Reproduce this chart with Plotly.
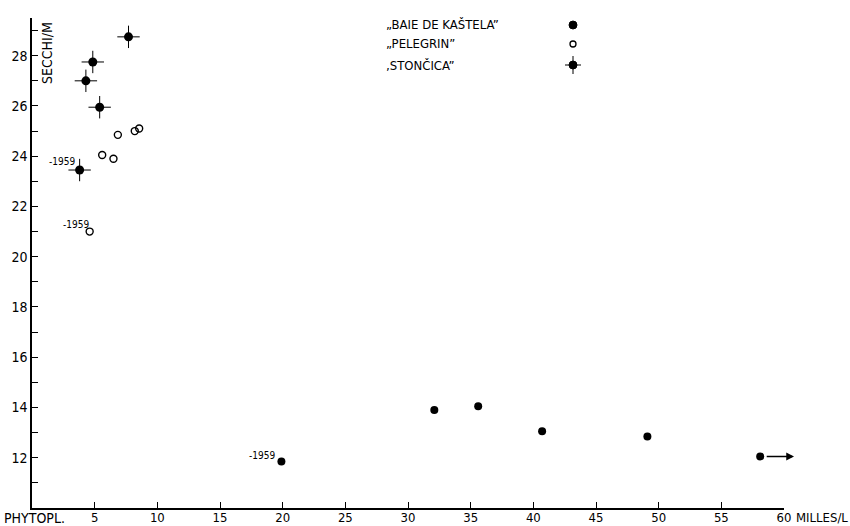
import plotly.graph_objects as go

# ---- data ----
kastela_x = [19.9, 32.1, 35.6, 40.7, 49.1, 58.1]
kastela_y = [11.85, 13.9, 14.05, 13.05, 12.85, 12.05]
pelegrin_x = [4.6, 5.6, 6.5, 6.85, 8.2, 8.55]
pelegrin_y = [21.0, 24.05, 23.9, 24.85, 25.0, 25.1]
stoncica_x = [3.8, 4.3, 4.85, 5.4, 7.7]
stoncica_y = [23.45, 27.0, 27.75, 25.95, 28.75]

x_ticks = [5, 10, 15, 20, 25, 30, 35, 40, 45, 50, 55, 60]
y_ticks = list(range(11, 30))
y_labels = [str(v) if v % 2 == 0 and v <= 28 else "" for v in y_ticks]

series_names = ["\u201eBAIE DE KA\u0160TELA\u201d", "\u201ePELEGRIN\u201d", "\u201aSTON\u010cICA\u201d"]
year_label = "-1959"

FONT = "DejaVu Sans Condensed, Liberation Sans Narrow, sans-serif"

W, H = 850, 526
ML, MR, MT, MB = 32, 66, 18, 18
pw, ph = W - ML - MR, H - MT - MB


def px(xp):
    return (xp - ML) / pw


def py(yp):
    return (H - yp - MB) / ph


fig = go.Figure()

fig.add_trace(go.Scatter(
    x=kastela_x, y=kastela_y, mode="markers",
    marker=dict(symbol="circle", size=8, color="black"),
    showlegend=False, cliponaxis=False))
fig.add_trace(go.Scatter(
    x=pelegrin_x, y=pelegrin_y, mode="markers",
    marker=dict(symbol="circle-open", size=7, color="black", line=dict(width=1.4)),
    showlegend=False, cliponaxis=False))
fig.add_trace(go.Scatter(
    x=stoncica_x, y=stoncica_y, mode="markers",
    marker=dict(symbol="cross-thin", size=16, line=dict(width=1, color="black")),
    showlegend=False, cliponaxis=False))
fig.add_trace(go.Scatter(
    x=stoncica_x, y=stoncica_y, mode="markers",
    marker=dict(symbol="circle", size=9, color="black"),
    showlegend=False, cliponaxis=False))

annotations = []
# 1959 labels
for sx, sy, dx, dy in [(stoncica_x[0], stoncica_y[0], -3, 1),
                       (pelegrin_x[0], pelegrin_y[0], 1, 0),
                       (kastela_x[0], kastela_y[0], -4, -1)]:
    annotations.append(dict(x=sx, y=sy, xref="x", yref="y", text=year_label,
                            showarrow=False, xanchor="right", yanchor="bottom",
                            xshift=dx, yshift=dy,
                            font=dict(family=FONT, size=10, color="black")))
# arrow at last Kastela point
annotations.append(dict(x=60.8, y=kastela_y[-1], xref="x", yref="y",
                        ax=kastela_x[-1] + 0.4, ay=kastela_y[-1], axref="x", ayref="y",
                        showarrow=True, arrowhead=2, arrowsize=1.2, arrowwidth=1.3,
                        arrowcolor="black", text=""))
# axis titles
annotations.append(dict(x=px(2), y=py(518), xref="paper", yref="paper", text="PHYTOPL.",
                        showarrow=False, xanchor="left", yanchor="middle",
                        font=dict(family=FONT, size=14, color="black")))
annotations.append(dict(x=px(794), y=py(517), xref="paper", yref="paper", text="MILLES/L",
                        showarrow=False, xanchor="left", yanchor="middle",
                        font=dict(family=FONT, size=13, color="black")))
annotations.append(dict(x=px(37), y=py(20), xref="paper", yref="paper", text="SECCHI/M",
                        showarrow=False, textangle=-90, xanchor="left", yanchor="top",
                        font=dict(family=FONT, size=14, color="black")))

# legend text
leg_y = [25, 44, 65]
for name, yy in zip(series_names, leg_y):
    annotations.append(dict(x=px(384), y=py(yy), xref="paper", yref="paper", text=name,
                            showarrow=False, xanchor="left", yanchor="middle",
                            font=dict(family=FONT, size=13, color="black")))

# legend keys as shapes (paper coords)
kx = 573
shapes = []
r = 4
shapes.append(dict(type="circle", xref="paper", yref="paper",
                   x0=px(kx - r), x1=px(kx + r), y0=py(leg_y[0] + r), y1=py(leg_y[0] - r),
                   fillcolor="black", line=dict(color="black", width=1)))
r = 3
shapes.append(dict(type="circle", xref="paper", yref="paper",
                   x0=px(kx - r), x1=px(kx + r), y0=py(leg_y[1] + r), y1=py(leg_y[1] - r),
                   fillcolor="white", line=dict(color="black", width=1.3)))
r = 4
shapes.append(dict(type="line", xref="paper", yref="paper",
                   x0=px(kx - 8), x1=px(kx + 8), y0=py(leg_y[2]), y1=py(leg_y[2]),
                   line=dict(color="black", width=1)))
shapes.append(dict(type="line", xref="paper", yref="paper",
                   x0=px(kx), x1=px(kx), y0=py(leg_y[2] - 9), y1=py(leg_y[2] + 9),
                   line=dict(color="black", width=1)))
shapes.append(dict(type="circle", xref="paper", yref="paper",
                   x0=px(kx - r), x1=px(kx + r), y0=py(leg_y[2] + r), y1=py(leg_y[2] - r),
                   fillcolor="black", line=dict(color="black", width=1)))

fig.update_layout(
    width=W, height=H,
    margin=dict(l=ML, r=MR, t=MT, b=MB, autoexpand=False),
    paper_bgcolor="white", plot_bgcolor="white",
    shapes=shapes, annotations=annotations,
    showlegend=False,
    xaxis=dict(range=[0, 60], tickvals=x_ticks, ticktext=[str(v) for v in x_ticks],
               ticks="inside", ticklen=6, tickwidth=1.3, tickcolor="black",
               showline=True, linecolor="black", linewidth=1.5,
               showgrid=False, zeroline=False, automargin=False,
               ticklabelstandoff=-3,
               tickfont=dict(family=FONT, size=13, color="black")),
    yaxis=dict(range=[10, 29.5], tickvals=y_ticks, ticktext=y_labels,
               ticks="inside", ticklen=6, tickwidth=1.3, tickcolor="black",
               showline=True, linecolor="black", linewidth=1.5,
               showgrid=False, zeroline=False, automargin=False,
               tickfont=dict(family=FONT, size=14, color="black")),
)

fig.write_html("out.html", config={"displayModeBar": False},
               post_script="document.body.style.margin='0px';document.body.style.overflow='hidden';")
